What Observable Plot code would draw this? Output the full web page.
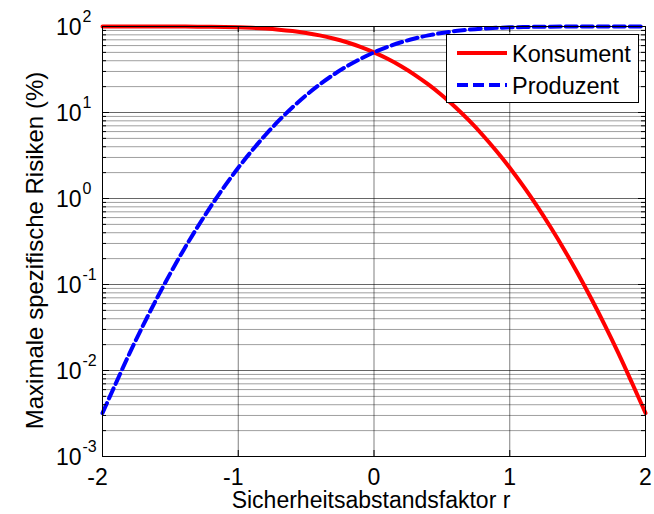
<!DOCTYPE html>
<html>
<head>
<meta charset="utf-8">
<script src="https://cdn.jsdelivr.net/npm/d3@7"></script>
<script src="https://cdn.jsdelivr.net/npm/@observablehq/plot@0.6"></script>
<style>
  body { margin: 0; background: #fff; }
  #wrap { position: relative; width: 654px; height: 514px; font-family: "Liberation Sans", Arial, sans-serif; }
  #legend { position: absolute; left: 0; top: 0; pointer-events: none; }
</style>
</head>
<body>
<div id="wrap"></div>
<script>
// ---- data ----
const rValues = [-2, -1.9, -1.8, -1.7, -1.6, -1.5, -1.4, -1.3, -1.2, -1.1, -1, -0.9, -0.8, -0.7, -0.6, -0.5, -0.4, -0.3, -0.2, -0.1, 0,
                 0.1, 0.2, 0.3, 0.4, 0.5, 0.6, 0.7, 0.8, 0.9, 1, 1.1, 1.2, 1.3, 1.4, 1.5, 1.6, 1.7, 1.8, 1.9, 2];
const konsument = [100, 99.99, 99.98, 99.97, 99.93, 99.87, 99.74, 99.53, 99.18, 98.61, 97.72, 96.41, 94.52, 91.92, 88.49, 84.13, 78.81, 72.57, 65.54, 57.93, 50,
                   42.07, 34.46, 27.43, 21.19, 15.87, 11.51, 8.08, 5.48, 3.59, 2.28, 1.39, 0.82, 0.466, 0.256, 0.135, 0.0687, 0.0337, 0.0159, 0.0072, 0.0032];
const produzent = [0.0032, 0.0072, 0.0159, 0.0337, 0.0687, 0.135, 0.256, 0.466, 0.82, 1.39, 2.28, 3.59, 5.48, 8.08, 11.51, 15.87, 21.19, 27.43, 34.46, 42.07, 50,
                   57.93, 65.54, 72.57, 78.81, 84.13, 88.49, 91.92, 94.52, 96.41, 97.72, 98.61, 99.18, 99.53, 99.74, 99.87, 99.93, 99.97, 99.98, 99.99, 100];
const seriesNames = ["Konsument", "Produzent"];
const xTicks = [-2, -1, 0, 1, 2];
const xTickLabels = ["-2", "-1", "0", "1", "2"];
const yExponents = [-3, -2, -1, 0, 1, 2];
const xLabel = "Sicherheitsabstandsfaktor r";
const yLabel = "Maximale spezifische Risiken (%)";

// ---- build tables ----
const kData = rValues.map((r, i) => ({r, v: konsument[i]}));
const pData = rValues.map((r, i) => ({r, v: produzent[i]}));
const majorY = yExponents.map(e => Math.pow(10, e));
const minorY = [];
yExponents.slice(0, -1).forEach(e => { for (let k = 2; k <= 9; k++) minorY.push(k * Math.pow(10, e)); });

const W = 654, H = 514, mL = 102, mR = 9, mT = 26, mB = 58;
const pW = W - mL - mR, pH = H - mT - mB;
const FS = 23;
const FONT = '"Liberation Sans", Arial, sans-serif';

const chart = Plot.plot({
  width: W, height: H,
  marginLeft: mL, marginRight: mR, marginTop: mT, marginBottom: mB,
  style: {fontFamily: FONT, fontSize: FS + "px", background: "#fff", color: "#000"},
  x: {domain: [-2, 2], axis: null},
  y: {type: "log", domain: [0.001, 100], axis: null},
  marks: [
    // grid
    Plot.ruleY(minorY, {y: d => d, stroke: "#000", strokeOpacity: 0.38, strokeWidth: 1}),
    Plot.ruleY(majorY, {y: d => d, stroke: "#000", strokeOpacity: 0.6, strokeWidth: 1}),
    Plot.ruleX(xTicks.slice(1, -1), {x: d => d, stroke: "#000", strokeOpacity: 0.5, strokeWidth: 1}),
    // curves
    Plot.line(kData, {x: "r", y: "v", stroke: "#ff0000", strokeWidth: 4, curve: "monotone-x"}),
    Plot.line(pData, {x: "r", y: "v", stroke: "#0000ff", strokeWidth: 4, strokeDasharray: "11,5", curve: "monotone-x"}),
    // box
    Plot.frame({stroke: "#000", strokeWidth: 1}),
    // inward ticks
    Plot.ruleY(majorY, {y: d => d, insetRight: pW - 7, stroke: "#000"}),
    Plot.ruleY(majorY, {y: d => d, insetLeft: pW - 7, stroke: "#000"}),
    Plot.ruleY(minorY, {y: d => d, insetRight: pW - 4, stroke: "#000"}),
    Plot.ruleY(minorY, {y: d => d, insetLeft: pW - 4, stroke: "#000"}),
    Plot.ruleX(xTicks, {x: d => d, insetTop: pH - 6, stroke: "#000"}),
    Plot.ruleX(xTicks, {x: d => d, insetBottom: pH - 6, stroke: "#000"}),
    // y tick labels 10^e
    Plot.text(yExponents, {y: e => Math.pow(10, e), frameAnchor: "left", text: () => "10", textAnchor: "end", lineAnchor: "middle", dx: -21, dy: 1, fontSize: FS, fill: "#000"}),
    Plot.text(yExponents, {y: e => Math.pow(10, e), frameAnchor: "left", text: e => String(e), textAnchor: "start", lineAnchor: "middle", dx: -20, dy: -10, fontSize: 16, fill: "#000"}),
    // x tick labels
    Plot.text(xTicks.filter(d => d < 0), {x: d => d, frameAnchor: "bottom", text: d => xTickLabels[xTicks.indexOf(d)], textAnchor: "middle", lineAnchor: "middle", dx: -5, dy: 21, fontSize: FS, fill: "#000"}),
    Plot.text(xTicks.filter(d => d >= 0), {x: d => d, frameAnchor: "bottom", text: d => xTickLabels[xTicks.indexOf(d)], textAnchor: "middle", lineAnchor: "middle", dy: 21, fontSize: FS, fill: "#000"}),
    // axis labels
    Plot.text([xLabel], {frameAnchor: "bottom", text: d => d, textAnchor: "middle", lineAnchor: "middle", dx: -3, dy: 44, fontSize: FS, fill: "#000"}),
    Plot.text([yLabel], {frameAnchor: "left", text: d => d, rotate: -90, textAnchor: "middle", lineAnchor: "middle", dx: -67, dy: 9, fontSize: 24, fill: "#000"})
  ]
});

const wrap = document.getElementById("wrap");
wrap.appendChild(chart);

// legend overlay
const ns = "http://www.w3.org/2000/svg";
const lg = document.createElementNS(ns, "svg");
lg.setAttribute("id", "legend");
lg.setAttribute("width", W);
lg.setAttribute("height", H);
lg.innerHTML = `
  <rect x="446.5" y="34.5" width="192" height="68" fill="#fff" stroke="#000" stroke-width="1"/>
  <line x1="457" x2="507" y1="53" y2="53" stroke="#ff0000" stroke-width="4"/>
  <line x1="457" x2="507" y1="85" y2="85" stroke="#0000ff" stroke-width="4" stroke-dasharray="11,5"/>
  <text x="512" y="62" font-size="23.5" font-family="Liberation Sans, Arial, sans-serif" fill="#000">${seriesNames[0]}</text>
  <text x="512" y="94" font-size="23.5" font-family="Liberation Sans, Arial, sans-serif" fill="#000">${seriesNames[1]}</text>
`;
wrap.appendChild(lg);
</script>
</body>
</html>
